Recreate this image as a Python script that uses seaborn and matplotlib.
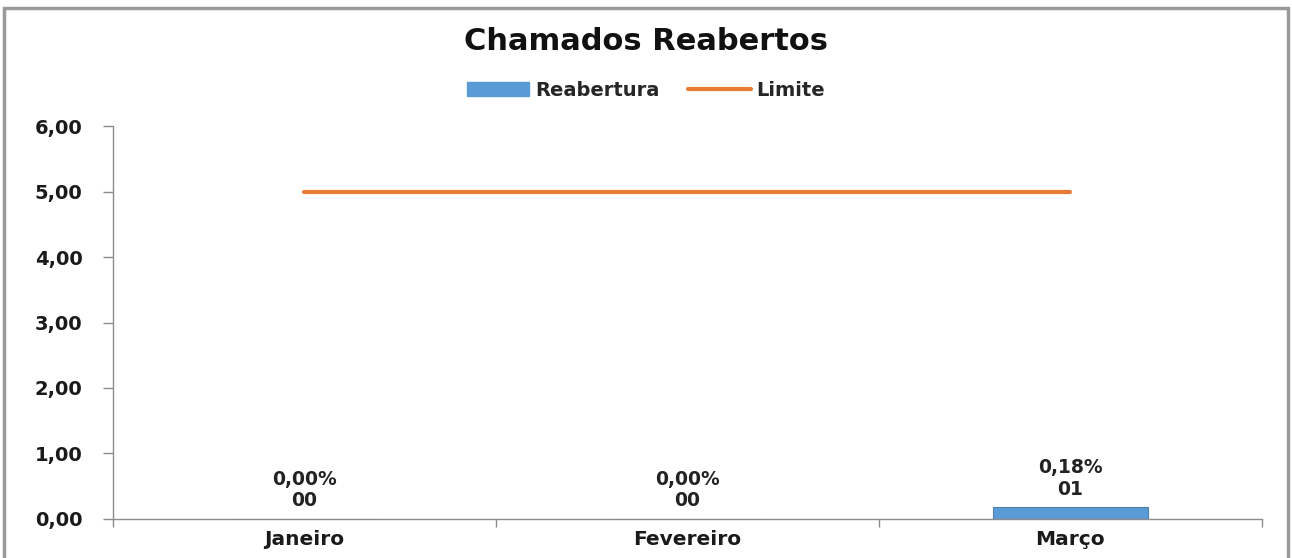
import matplotlib
matplotlib.use("Agg")
import matplotlib.pyplot as plt
import pandas as pd
import seaborn as sns
from matplotlib.patches import Rectangle, Patch
from matplotlib.lines import Line2D
from matplotlib.ticker import FuncFormatter, FixedLocator

months = ["Janeiro", "Fevereiro", "Março"]
reabertura = [0.0, 0.0, 0.18]
limite = [5.0, 5.0, 5.0]
pct_labels = ["0,00%", "0,00%", "0,18%"]
count_labels = ["00", "00", "01"]

bar_color = "#5B9BD5"
line_color = "#E97C35"

sns.set_theme(style="white")
plt.rcParams["font.family"] = ["DejaVu Sans"]

df = pd.DataFrame({"Mes": months, "Reabertura": reabertura, "Limite": limite})

fig = plt.figure(figsize=(12.92, 5.58), dpi=100)
ax = fig.add_axes([0.0875, 0.07, 0.889, 0.704])

sns.barplot(data=df, x="Mes", y="Reabertura", color=bar_color, width=0.405,
            edgecolor="#4A7FB0", linewidth=0.8, ax=ax, saturation=1)
sns.lineplot(x=list(range(len(months))), y=df["Limite"], color=line_color,
             linewidth=3, ax=ax)

# rótulos de dados acima das barras
for i in range(len(months)):
    ax.text(i, reabertura[i] + 0.13, pct_labels[i] + "\n" + count_labels[i],
            ha="center", va="bottom", fontsize=13.5, fontweight="bold",
            color="#222222", linespacing=1.15)

ax.set_xlim(-0.5, 2.5)
ax.set_ylim(0, 6)
ax.set_yticks(range(0, 7))
ax.yaxis.set_major_formatter(FuncFormatter(lambda v, p: f"{v:.2f}".replace(".", ",")))
ax.set_xlabel("")
ax.set_ylabel("")

for side in ["top", "right"]:
    ax.spines[side].set_visible(False)
for side in ["left", "bottom"]:
    ax.spines[side].set_color("#8C8C8C")
    ax.spines[side].set_linewidth(1)

ax.tick_params(axis="y", which="major", left=True, length=7, width=1,
               color="#8C8C8C", labelsize=14, pad=15)
ax.tick_params(axis="x", which="major", bottom=False, labelsize=14.5, pad=2)
ax.xaxis.set_minor_locator(FixedLocator([-0.5, 0.5, 1.5, 2.5]))
ax.tick_params(axis="x", which="minor", bottom=True, length=6, width=1,
               color="#8C8C8C")
for lbl in ax.get_xticklabels() + ax.get_yticklabels():
    lbl.set_fontweight("bold")
    lbl.set_color("#1A1A1A")

fig.text(0.5, 0.925, "Chamados Reabertos", ha="center", va="center",
         fontsize=22, fontweight="bold", color="#111111")

handles = [Patch(facecolor=bar_color, edgecolor=bar_color, label="Reabertura"),
           Line2D([0], [0], color=line_color, linewidth=3, label="Limite")]
fig.legend(handles=handles, loc="center", bbox_to_anchor=(0.5, 0.838), ncol=2,
           frameon=False, prop={"weight": "bold", "size": 14},
           handlelength=3.2, handleheight=0.7, columnspacing=1.5, handletextpad=0.3)

fig.patches.append(Rectangle((0.003, -0.01), 0.994, 0.995, transform=fig.transFigure,
                             fill=False, edgecolor="#9A9A9A", linewidth=2.5))

fig.savefig("out.png", dpi=100, facecolor="white")
